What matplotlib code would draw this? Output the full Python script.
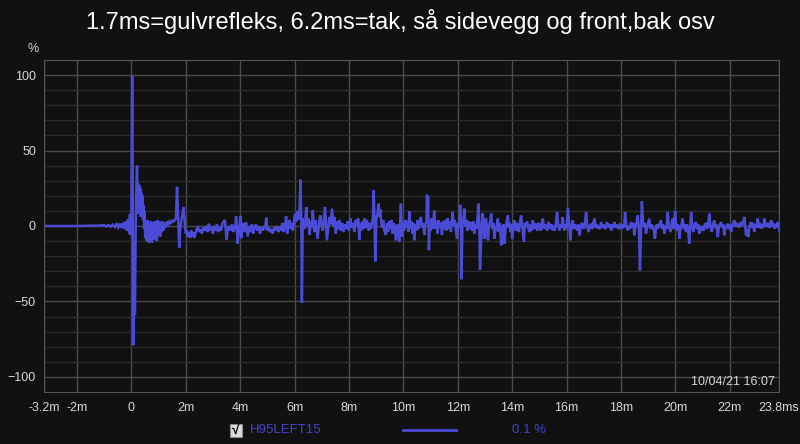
import numpy as np
import matplotlib
matplotlib.use('Agg')
import matplotlib.pyplot as plt
from matplotlib.patches import Rectangle
from matplotlib.lines import Line2D

plt.rcParams['font.family'] = ['Liberation Sans Narrow', 'Liberation Sans', 'DejaVu Sans']

# impulse response, time in ms, amplitude in %
pre_t = [-3.2, -2.0, -1.5, -1.2, -1.0, -0.92, -0.84, -0.76, -0.68, -0.6, -0.54, -0.48, -0.42,
         -0.36, -0.3, -0.25, -0.2, -0.16, -0.12, -0.08, -0.05, -0.02]
pre_v = [0, 0, 0.2, 0.3, 0.5, -0.3, 0.7, -0.5, 0.9, -0.7, 1.2, -1.0, 1.6,
         -1.4, 2.2, -2.0, 3.0, -3.0, 4.5, -5, 8, -6]

imp_t = [0.00, 0.03, 0.05, 0.07, 0.09, 0.11, 0.13, 0.15, 0.17, 0.19, 0.21, 0.23, 0.25, 0.27,
         0.29, 0.31, 0.33, 0.35, 0.37, 0.39, 0.41, 0.43, 0.45, 0.47, 0.49, 0.51, 0.53, 0.55,
         0.57, 0.59, 0.61, 0.64, 0.67, 0.70, 0.73, 0.76, 0.79, 0.82, 0.85, 0.88, 0.91, 0.94,
         0.97, 1.00, 1.03, 1.06, 1.09, 1.12, 1.15, 1.18, 1.21, 1.25, 1.30, 1.35, 1.40, 1.45,
         1.50, 1.55, 1.60, 1.64, 1.68, 1.72, 1.76, 1.80, 1.84, 1.88, 1.92, 1.96, 2.00]
imp_v = [5, 100, 30, -79, -30, -10, -59, -20, 15, 30, 40, 12, 28, 8,
         27, 10, 25, 6, 22, 8, 20, 4, 14, -2, 10, -8, 3, -10,
         2, -9, 4, -11, 2, -10, 3, -11, 1, -9, 3, -8, 2, -10,
         4, -6, 3, -7, 2, -4, 3, -3, 2, -1, 3, 1, 3, 2,
         3.5, 3, 4, 5, 26, 5, -14.5, -1, 4, 8, 12.6, 3, -5]

early_t = [2.04, 2.08, 2.12, 2.16, 2.20, 2.24, 2.28, 2.32, 2.36, 2.40, 2.45, 2.50, 2.55, 2.60,
           2.65, 2.70, 2.75, 2.80, 2.85, 2.90, 2.95, 3.00, 3.05, 3.10, 3.15, 3.20, 3.25, 3.30,
           3.35, 3.44, 3.50, 3.55, 3.60, 3.65, 3.70, 3.75, 3.80, 3.82, 3.85, 3.91, 3.96, 4.01,
           4.04, 4.08, 4.12, 4.16, 4.22, 4.28, 4.33, 4.38, 4.43, 4.48, 4.53, 4.58, 4.63, 4.68,
           4.73, 4.78, 4.83, 4.88, 4.92, 4.96, 5.00, 5.05, 5.10, 5.15, 5.20, 5.25, 5.30, 5.35,
           5.40, 5.45, 5.50, 5.55, 5.60, 5.65, 5.69, 5.73, 5.77, 5.81, 5.85, 5.90, 5.94, 5.98,
           6.02, 6.06, 6.10, 6.14, 6.18, 6.22, 6.25, 6.27, 6.30, 6.34, 6.38, 6.43, 6.47, 6.51,
           6.55, 6.60, 6.64, 6.67, 6.70, 6.73, 6.77, 6.81, 6.85, 6.90, 6.95, 7.00, 7.04, 7.08,
           7.12, 7.16, 7.19, 7.24, 7.28, 7.31]
early_v = [-3, -7, -4, -8, -3, -7, -4, -8, -5, -2, -1, -4, -2, -5,
           -1, -3, 0, -4, 1.5, -3, -1, -5, 0, -3, 1, -4, -1, -3,
           2, 4, -9, -2, 0, -3, 1, -4, 0, -2, 6.5, -11.7, -2, 6.5,
           -8, -1, 2, -4, 2.6, -7, 0, -4, 1, -5, -1, 1, -3, 0,
           -5, -1, -3, 0, -2, 5.5, -3, -1, -4, -2, -5, -1, -3, 0,
           -4, -1, -3, 2, -4, 0, 6.5, -5, 0, 4, -2, 2, -3, 3,
           8, 3, 10, 4, 9, 30.7, 2, -51, 5, 3, -2, 12.6, 0, 5,
           -6, 3, -1, 10.4, 1, -4, 4, -2, -8.5, 2, 7, 0, -3, 4,
           12.6, 0, -9.5, -1, 6, 1]

middle_t = [7.38, 7.42, 7.46, 7.52, 7.56, 7.60, 7.65, 7.70, 7.75, 7.80, 7.85, 7.90, 7.95, 8.00,
            8.05, 8.10, 8.15, 8.20, 8.25, 8.30, 8.34, 8.38, 8.42, 8.46, 8.50, 8.54, 8.57, 8.62,
            8.66, 8.69, 8.73, 8.77, 8.81, 8.85, 8.88, 8.91, 8.94, 8.97, 9.01, 9.05, 9.09, 9.12,
            9.15, 9.18, 9.22, 9.26, 9.30, 9.36, 9.40, 9.44, 9.48, 9.52, 9.56, 9.60, 9.64, 9.68,
            9.73, 9.77, 9.81, 9.85, 9.88, 9.91, 9.95, 9.99, 10.03, 10.07, 10.11, 10.15, 10.19,
            10.22, 10.26, 10.30, 10.34, 10.37, 10.40, 10.44, 10.48, 10.52, 10.56, 10.60, 10.65,
            10.69, 10.73, 10.77, 10.81, 10.85, 10.87, 10.89, 10.91, 10.94, 10.97, 11.00, 11.04,
            11.08, 11.14, 11.18, 11.22, 11.26, 11.30, 11.34, 11.38, 11.42, 11.46, 11.50, 11.54,
            11.58, 11.63, 11.67, 11.71, 11.75, 11.81, 11.85, 11.89, 11.93, 11.97, 12.01, 12.05,
            12.09, 12.12, 12.14, 12.17, 12.21, 12.24, 12.28, 12.32, 12.36, 12.40, 12.44, 12.49,
            12.53, 12.57, 12.61, 12.65, 12.69, 12.72, 12.76, 12.79, 12.82]
middle_v = [11.5, 0, 6, -5, 3, -2, 4, -3, 2, -4, 1, -2, 3, -3,
            5, -1, 2, -4, 4, 0, 5, -9, 2, -3, 3, -2, 5, -1,
            4, 1, -3, 2, -2, 3, 5, 23.6, 3, -23.4, 5, 8, 14.8, 6,
            11, 3, -1, 4, -3, -6, 2, -4, 3, -2, 4, -5, 2, -2,
            -9.5, 1, -3, -10.6, 0, 14.8, -7, 2, -3, 4, -1, 3, -4,
            9.7, -2, 3, -5, 2, -9.5, 1, -3, 4, -2, 3, 6,
            -1, 2, -6, 1, 3, 20.7, 8, 19.6, -16, 2, -3, 5,
            -2, 10.4, -2, 3, -5, 4, -1, 2, -6, 3, -2, 4,
            -3, 5, -2, 3, -4, 9.3, 0, 4, -2, -8.4, 2, -1,
            14, 2, -35.3, 0, 5, 11.5, 0, 4, -3, 3, -2, 2.6,
            -3, 3, -5, 1, -2, 4, 14.8, 2, -29]

late_t = [12.86, 12.89, 12.92, 12.95, 12.98, 13.01, 13.04, 13.08, 13.11, 13.15, 13.19, 13.23,
          13.27, 13.31, 13.35, 13.39, 13.43, 13.47, 13.51, 13.55, 13.60, 13.64, 13.68, 13.72,
          13.76, 13.80, 13.84, 13.88, 13.91, 13.94, 13.97, 14.00, 14.04, 14.09, 14.13, 14.17,
          14.21, 14.25, 14.29, 14.33, 14.38, 14.43, 14.47, 14.51, 14.55, 14.60, 14.64, 14.68,
          14.72, 14.76, 14.80, 14.84, 14.88, 14.92, 14.96, 15.00, 15.05, 15.09, 15.13, 15.17,
          15.21, 15.25, 15.29, 15.33, 15.37, 15.41, 15.45, 15.49, 15.53, 15.57, 15.61, 15.65,
          15.70, 15.74, 15.78, 15.82, 15.86, 15.89, 15.92, 15.96, 16.00, 16.05, 16.10, 16.14,
          16.18, 16.23, 16.27, 16.31, 16.35, 16.39, 16.43, 16.48, 16.52, 16.56, 16.60, 16.64,
          16.68, 16.72, 16.76, 16.81, 16.85, 16.90, 16.94, 16.98, 17.03, 17.07, 17.11, 17.15,
          17.19, 17.23, 17.27, 17.31, 17.35, 17.39, 17.43, 17.48, 17.52, 17.56, 17.60, 17.64,
          17.68, 17.72, 17.76, 17.80, 17.84, 17.88, 17.92, 17.96, 18.00, 18.04, 18.08, 18.12,
          18.15, 18.20, 18.25, 18.29, 18.33, 18.37]
late_v = [-10, 2, 8.6, -1, -8.4, 1, 4.9, -3, -9.5, 0, 3, 8.2,
          -2, 2, -8.4, 0, -3, 4.9, -4, 2, -12.8, -3, 1, -11.7,
          -2, 3, 7, -1, 2, -4, 1, -8.4, 0, 3.8, -3, 2,
          -0.7, -4, 3, 7, -2, -10.6, 2, -0.7, 3, -2, -4, 1,
          -3, 3.8, -2, 2, -0.7, -3, 2, 0.4, -3, 2, 4.9, -2,
          1, -0.7, -3, 2, 1.5, -2, 1, -2.9, 0, -3, 2, 9.3,
          0, -2.9, 1, -1, 6, 0, -2.9, 1, -2, 12.1, 0, -9.5,
          0, 3.8, -2, 1, -0.7, -3, 1, -6.2, -1, 2, 0.4, -2,
          3, 9.3, 0, -4, 0, 1.5, -2, 2, 4.9, -1, 1, -1.8,
          0, -2, 2.6, -1, 1, -0.7, -2, 2, 1.5, -1, 1, -2.9,
          0, -1, 2.6, -1, 1, -0.7, -2, 1, 0.4, -2, 1, -1,
          9.3, 0, -2.9, 0, -2, 2.6]

tail_t = [18.42, 18.46, 18.49, 18.53, 18.57, 18.62, 18.66, 18.70, 18.74, 18.77, 18.81, 18.84,
          18.88, 18.92, 18.96, 19.00, 19.04, 19.08, 19.12, 19.17, 19.21, 19.25, 19.29, 19.32,
          19.35, 19.39, 19.43, 19.47, 19.51, 19.55, 19.60, 19.64, 19.68, 19.72, 19.76, 19.82,
          19.86, 19.90, 19.94, 19.99, 20.03, 20.06, 20.10, 20.15, 20.19, 20.23, 20.27, 20.31,
          20.35, 20.39, 20.43, 20.47, 20.51, 20.55, 20.58, 20.62, 20.67, 20.71, 20.76, 20.80,
          20.84, 20.88, 20.92, 20.96, 21.00, 21.04, 21.08, 21.13, 21.17, 21.21, 21.25, 21.29,
          21.34, 21.38, 21.43, 21.47, 21.51, 21.56, 21.60, 21.64, 21.68, 21.72, 21.76, 21.80,
          21.84, 21.88, 21.92, 21.96, 22.00, 22.05, 22.09, 22.13, 22.17, 22.21, 22.25, 22.29,
          22.33, 22.37, 22.41, 22.45, 22.50, 22.54, 22.57, 22.60, 22.64, 22.68, 22.72, 22.75,
          22.78, 22.82, 22.86, 22.90, 22.94, 22.98, 23.03, 23.07, 23.11, 23.15, 23.19, 23.23,
          23.27, 23.31, 23.35, 23.39, 23.43, 23.47, 23.52, 23.56, 23.60, 23.64, 23.68, 23.72,
          23.76, 23.80, 23.82]
tail_v = [-1, 2, -6.2, -1, 2, 7, -2, -29.4, -3, 16.3, 3, -0.7,
          2, -5, -1, 2, 4.9, -2, 1, -0.7, -3, -8.4, -1, 1,
          -1.8, 0, 2, 3.8, -2, 1, -5, 0, -2, 9.3, 0, -4,
          1, 4.9, -2, 9.9, 1, -2.9, 1, -8.4, -1, 1, 4.9, -2,
          1, -4, 1, -2, -11.7, 0, 9.3, 0, -4, 1, 2.6, -2,
          1, -5, 0, -2, -0.7, -3, 1, 1.5, -2, 2, 8.2, 0,
          -4, 0, 3.8, -1, 1, -7.3, -1, 1, 2.6, -1, 1, -6.2,
          -1, 0, 1.5, -2, 1, -4, 0, 2, 3.8, 0, 2, 0.4,
          -1, 1, 2.6, 0, 3, 6, 0, -6.2, -2, -7.3, -1, 1,
          2.6, -1, 2, -4, 1, -1, 4.9, -1, 2, -1.8, 1, -1,
          4.9, 0, 2, -0.7, 2, -1, 3.8, 0, 2, -1.8, 1, -1,
          2.6, 0, -2.9]

t_ms = pre_t + imp_t + early_t + middle_t + late_t + tail_t
amp = pre_v + imp_v + early_v + middle_v + late_v + tail_v

x_ticks = [-3.2, -2, 0, 2, 4, 6, 8, 10, 12, 14, 16, 18, 20, 22, 23.8]
x_labels = ['-3.2m', '-2m', '0', '2m', '4m', '6m', '8m', '10m', '12m', '14m', '16m',
            '18m', '20m', '22m', '23.8ms']
y_ticks = [-100, -50, 0, 50, 100]

title = '1.7ms=gulvrefleks, 6.2ms=tak, så sidevegg og front,bak osv'
trace_name = 'H95LEFT15'

bg = '#111111'
blue = '#4b4bd8'
txt = '#d8d8d8'

fig = plt.figure(figsize=(8, 4.44), dpi=100, facecolor=bg)
ax = fig.add_axes([44.3 / 800, 1 - 392 / 444, (778.7 - 44.3) / 800, (392 - 60) / 444])
ax.set_facecolor(bg)

ax.plot(t_ms, amp, color=blue, lw=1.8, solid_joinstyle='miter')

ax.set_xlim(-3.2, 23.8)
ax.set_ylim(-110, 110)
ax.set_xticks(x_ticks)
ax.set_xticklabels(x_labels)
ax.set_yticks(y_ticks)
ax.set_yticks(np.arange(-100, 101, 10), minor=True)
ax.grid(True, which='major', color='#4a4a4a', lw=1)
ax.grid(True, which='minor', axis='y', color='#2c2c2c', lw=1)
ax.set_axisbelow(True)
ax.tick_params(which='both', length=0, colors=txt, labelsize=9)
ax.tick_params(axis='x', pad=7)
ax.tick_params(axis='y', pad=6)
for s in ax.spines.values():
    s.set_color('#555555')

fig.text(0.5, 1 - 22 / 444, title, color='white', fontsize=17, ha='center', va='center')
fig.text(33 / 800, 1 - 49 / 444, '%', color=txt, fontsize=9, ha='center', va='center')
ax.text(0.995, 0.012, '10/04/21 16:07', transform=ax.transAxes, color=txt, fontsize=9,
        ha='right', va='bottom')

# legend row below the plot
fig.patches.append(Rectangle((230 / 800, 1 - 437 / 444), 12 / 800, 13 / 444,
                             transform=fig.transFigure, facecolor='#dcdcdc',
                             edgecolor='#888888', lw=0.8))
fig.text(236 / 800, 1 - 430 / 444, '√', color='black', fontsize=10, ha='center',
         va='center', fontweight='bold')
fig.text(250 / 800, 1 - 430 / 444, trace_name, color='#4444cc', fontsize=9.5,
         ha='left', va='center')
fig.lines.append(Line2D([403 / 800, 456 / 800], [1 - 430 / 444, 1 - 430 / 444],
                        transform=fig.transFigure, color=blue, lw=2))
fig.text(512 / 800, 1 - 430 / 444, '0.1 %', color='#4444cc', fontsize=9.5,
         ha='left', va='center')

fig.savefig('out.png', dpi=100, facecolor=bg)
